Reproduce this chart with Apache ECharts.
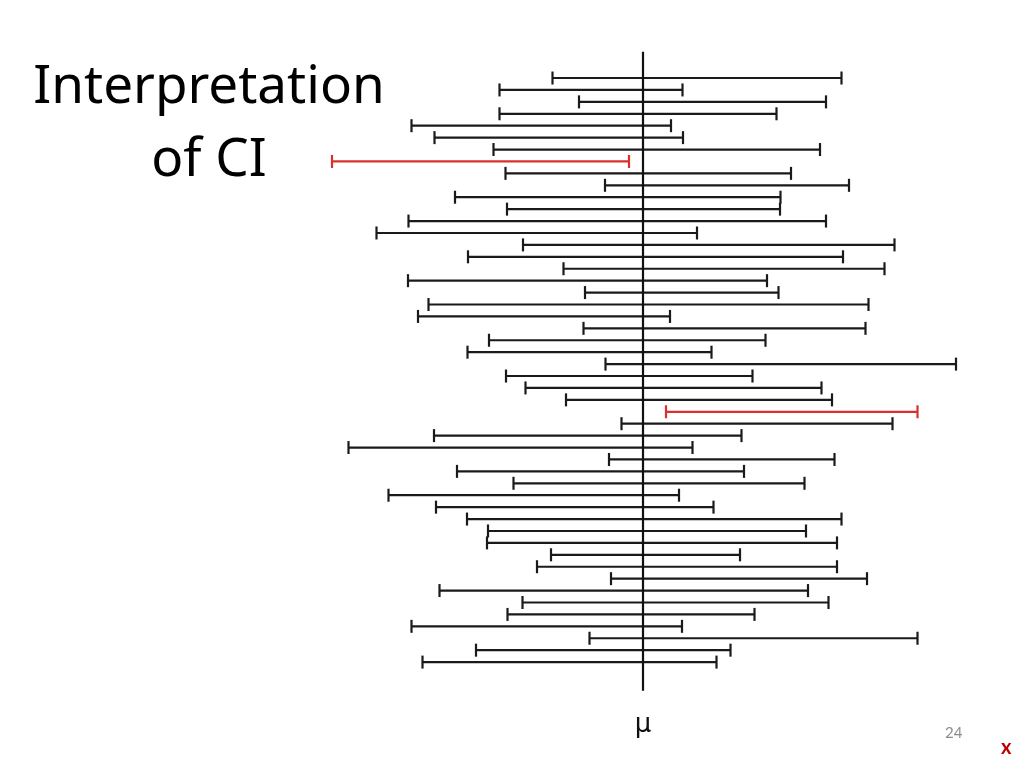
<!DOCTYPE html>
<html><head><meta charset="utf-8">
<script src="https://cdn.jsdelivr.net/npm/echarts@6/dist/echarts.min.js"></script>
<style>html,body{margin:0;padding:0;background:#fff}#c{width:1024px;height:768px}</style>
</head><body><div id="c"></div>
<script>
// Interval lower / upper bounds (arbitrary units, μ = 0), top row first
const lower = [-1.81,-2.87,-1.28,-2.87,-4.63,-4.17,-2.99,-6.22,-2.75,-0.76,
  -3.76,-2.72,-4.69,-5.33,-2.40,-3.50,-1.59,-4.70,-1.16,-4.29,
  -4.50,-1.19,-3.08,-3.51,-0.75,-2.74,-2.35,-1.54,0.46,-0.43,
  -4.18,-5.89,-0.68,-3.72,-2.59,-5.09,-4.14,-3.52,-3.10,-3.12,
  -1.84,-2.12,-0.64,-4.07,-2.41,-2.71,-4.63,-1.07,-3.34,-4.41];
const upper = [3.97,0.79,3.66,2.67,0.56,0.80,3.54,-0.28,2.96,4.12,
  2.75,2.74,3.66,1.08,5.03,4.00,4.83,2.48,2.71,4.51,
  0.54,4.45,2.45,1.37,6.26,2.19,3.57,3.78,5.49,4.99,
  1.97,0.99,3.83,2.02,3.23,0.72,1.41,3.97,3.26,3.88,
  1.94,3.88,4.48,3.30,3.71,2.23,0.78,5.49,1.75,1.47];
const mu = 0;
const muLabel = 'μ';
const titleText = 'Interpretation\nof CI';
const pageNumber = '24';

const data = lower.map((lo, i) => {
  const miss = upper[i] < mu || lo > mu;
  return { value: [i + 1, lo, upper[i]], miss: miss };
});

const chart = echarts.init(document.getElementById('c'));
chart.setOption({
  animation: false,
  backgroundColor: '#ffffff',
  title: [
    { text: titleText, left: 204, top: 46, textAlign: 'center',
      textStyle: { fontFamily: 'Noto Sans', fontSize: 53, fontWeight: 'normal', color: '#000', lineHeight: 73 } },
    { text: pageNumber, left: 940, top: 721, textAlign: 'left',
      textStyle: { fontFamily: 'Lato', fontSize: 15, fontWeight: 'normal', color: '#8c8c8c' } },
    { text: 'x', left: 996, top: 733, textAlign: 'left',
      textStyle: { fontFamily: 'Lato', fontSize: 20, fontWeight: 'bold', color: '#c00000' } }
  ],
  grid: { left: 293, right: 31, top: 51.8, bottom: 77.3 },
  xAxis: {
    type: 'value', min: -7, max: 7, interval: 7,
    axisLine: { show: false }, axisTick: { show: false }, splitLine: { show: false },
    axisLabel: { margin: 22, fontSize: 26, color: '#111', fontFamily: 'DejaVu Sans',
      formatter: v => (v === mu ? muLabel : '') }
  },
  yAxis: {
    type: 'value', min: -1.2, max: 52.4, inverse: true, show: false
  },
  series: [{
    type: 'custom',
    data: data,
    encode: { x: [1, 2], y: 0 },
    renderItem: function (params, api) {
      const y = api.value(0);
      const a = api.coord([api.value(1), y]);
      const b = api.coord([api.value(2), y]);
      const item = data[params.dataIndex];
      const color = item.miss ? '#d9302c' : '#1a1a1a';
      const h = 6.5;
      const style = { stroke: color, lineWidth: 2.2 };
      return { type: 'group', children: [
        { type: 'line', shape: { x1: a[0], y1: a[1], x2: b[0], y2: b[1] }, style: style },
        { type: 'line', shape: { x1: a[0], y1: a[1] - h, x2: a[0], y2: a[1] + h }, style: style },
        { type: 'line', shape: { x1: b[0], y1: b[1] - h, x2: b[0], y2: b[1] + h }, style: style }
      ] };
    },
    markLine: {
      silent: true, symbol: 'none', label: { show: false },
      lineStyle: { color: '#111', width: 2.2, type: 'solid' },
      data: [{ xAxis: mu }]
    },
    z: 3
  }]
});
</script>
</body></html>
